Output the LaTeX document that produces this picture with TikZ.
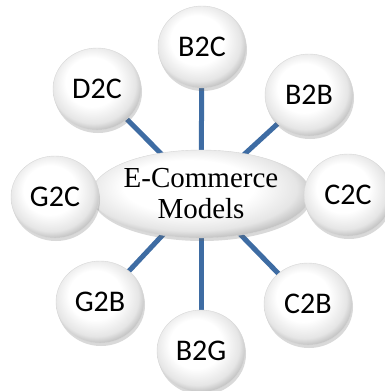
\documentclass[tikz,border=0pt]{standalone}
\usepackage{fontspec}
\setmainfont{Liberation Serif}
\newfontfamily\calib{Carlito}
\usetikzlibrary{shapes.geometric,shadows}
\definecolor{linkblue}{HTML}{3E6CA3}
\pgfdeclareradialshading{sphere}{\pgfpoint{-4bp}{6bp}}{%
  color(0bp)=(white); color(15bp)=(white); color(24bp)=(black!10); color(29bp)=(black!28); color(50bp)=(black!28)}
\tikzset{
  ball/.style={ellipse, minimum width=88pt, minimum height=82pt, inner sep=0pt, shading=sphere,
    draw=black!16, line width=0.4pt, font=\calib\fontsize{30}{30}\selectfont,
    drop shadow={shadow xshift=1pt, shadow yshift=-3pt, opacity=0.25, fill=black!60}},
  hub/.style={ellipse, minimum width=216pt, minimum height=88pt, inner sep=0pt, shading=sphere,
    draw=black!16, line width=0.4pt, align=center,
    font=\fontsize{29}{31}\selectfont,
    drop shadow={shadow xshift=1pt, shadow yshift=-3pt, opacity=0.25, fill=black!60}},
  link/.style={draw=linkblue, line width=5pt}
}
\begin{document}
\begin{tikzpicture}[x=1pt,y=-1pt]
\useasboundingbox (0,0) rectangle (385,391);
\coordinate (c) at (201,194);
\foreach \n/\x/\y in {b2c/202/47, b2b/309/95, c2c/348/195, c2b/308/304, b2g/201/351, g2b/100/302, g2c/55/197, d2c/97/89}{
  \coordinate (p\n) at (\x,\y);
  \draw[link] (c) -- (p\n);
}
\node[hub] (hub) at (c) {E-Commerce\\Models};
\node[ball] (b2c) at (pb2c) {B2C};
\node[ball] (b2b) at (pb2b) {B2B};
\node[ball] (c2c) at (pc2c) {C2C};
\node[ball] (c2b) at (pc2b) {C2B};
\node[ball] (b2g) at (pb2g) {B2G};
\node[ball] (g2b) at (pg2b) {G2B};
\node[ball] (g2c) at (pg2c) {G2C};
\node[ball] (d2c) at (pd2c) {D2C};
\end{tikzpicture}
\end{document}
